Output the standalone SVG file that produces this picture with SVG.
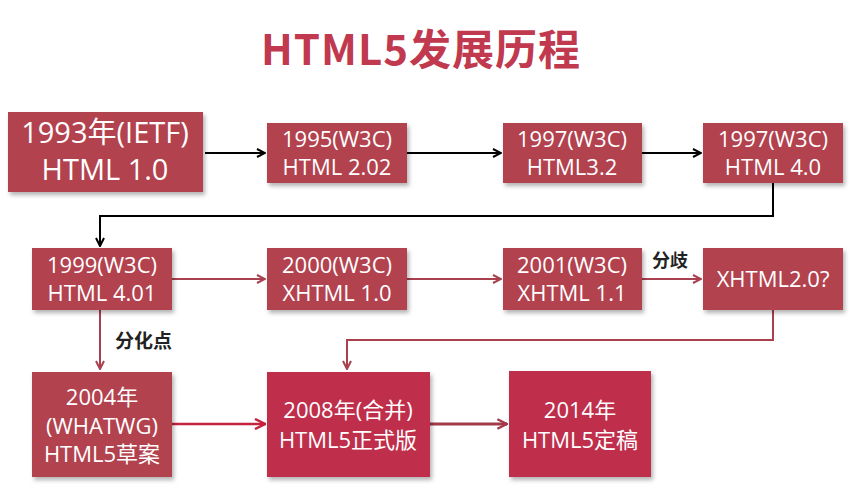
<svg xmlns="http://www.w3.org/2000/svg" width="855" height="490" viewBox="0 0 855 490">
<defs>
<filter id="sh" x="-10%" y="-10%" width="125%" height="130%">
<feDropShadow dx="2" dy="3" stdDeviation="2" flood-color="#000" flood-opacity="0.3"/>
</filter>
<marker id="ab" viewBox="0 0 10 10" refX="9" refY="5" markerWidth="5" markerHeight="5" orient="auto" markerUnits="strokeWidth">
<path d="M1,1 L9,5 L1,9" fill="none" stroke="#000" stroke-width="2"/>
</marker>
<marker id="ar" viewBox="0 0 10 10" refX="9" refY="5" markerWidth="5" markerHeight="5" orient="auto" markerUnits="strokeWidth">
<path d="M1,1 L9,5 L1,9" fill="none" stroke="#a8404f" stroke-width="2"/>
</marker>
<marker id="ar2" viewBox="0 0 10 10" refX="9" refY="5" markerWidth="5" markerHeight="5" orient="auto" markerUnits="strokeWidth">
<path d="M1,1 L9,5 L1,9" fill="none" stroke="#c4223e" stroke-width="2"/>
</marker>
<marker id="ar3" viewBox="0 0 10 10" refX="9" refY="5" markerWidth="4" markerHeight="4" orient="auto" markerUnits="strokeWidth">
<path d="M1,1 L9,5 L1,9" fill="none" stroke="#a33a48" stroke-width="2"/>
</marker>
</defs>
<style>
.box{fill:#b3434f;filter:url(#sh)}
.box2{fill:#bf2e4b;filter:url(#sh)}
text{font-family:"Open Sans","Noto Sans CJK SC",sans-serif;fill:#fff;text-anchor:middle}
.t{font-size:22px}
.big{font-size:29px}
.lbl{font-family:"Noto Sans CJK SC",sans-serif;fill:#222;font-weight:bold;font-size:18px;text-anchor:start}
.title{font-family:"Noto Sans CJK SC",sans-serif;fill:#c0394f;font-weight:bold;font-size:42px;letter-spacing:1px}
.cb{fill:none;stroke:#000;stroke-width:2}
.cr{fill:none;stroke:#a8404f;stroke-width:2}
</style>
<rect width="855" height="490" fill="#fff"/>
<text class="title" x="421" y="65">HTML5发展历程</text>
<g id="connectors">
<line class="cb" x1="205" y1="153" x2="265" y2="153" marker-end="url(#ab)"/>
<line class="cb" x1="407" y1="153" x2="501" y2="153" marker-end="url(#ab)"/>
<line class="cb" x1="642" y1="153" x2="701" y2="153" marker-end="url(#ab)"/>
<polyline class="cb" points="773,183 773,216 100,216 100,246" marker-end="url(#ab)"/>
<line class="cr" x1="172" y1="279" x2="265" y2="279" marker-end="url(#ar)"/>
<line class="cr" x1="407" y1="279" x2="501" y2="279" marker-end="url(#ar)"/>
<line class="cr" x1="642" y1="279" x2="701" y2="279" marker-end="url(#ar)"/>
<polyline class="cr" points="773,310 773,340 347,340 347,369" marker-end="url(#ar)"/>
<line class="cr" x1="100" y1="310" x2="100" y2="369" marker-end="url(#ar)"/>
<line x1="172" y1="424" x2="265" y2="424" fill="none" stroke="#c4223e" stroke-width="2.5" marker-end="url(#ar2)"/>
<line x1="430" y1="424" x2="507" y2="424" fill="none" stroke="#a33a48" stroke-width="3" marker-end="url(#ar3)"/>
</g>
<text class="lbl" x="652" y="267">分歧</text>
<text class="lbl" x="115" y="348" style="font-size:19px">分化点</text>
<g id="n1"><rect class="box" x="8" y="112" width="195" height="80"/><text class="big" x="105" y="143">1993年(IETF)</text><text class="big" x="105" y="180">HTML 1.0</text></g>
<g id="n2"><rect class="box" x="267" y="123" width="140" height="60"/><text class="t" x="337" y="147">1995(W3C)</text><text class="t" x="337" y="175">HTML 2.02</text></g>
<g id="n3"><rect class="box" x="503" y="123" width="139" height="60"/><text class="t" x="572" y="147">1997(W3C)</text><text class="t" x="572" y="175">HTML3.2</text></g>
<g id="n4"><rect class="box" x="703" y="123" width="140" height="60"/><text class="t" x="773" y="147">1997(W3C)</text><text class="t" x="773" y="175">HTML 4.0</text></g>
<g id="n5"><rect class="box" x="32" y="248" width="140" height="62"/><text class="t" x="102" y="273">1999(W3C)</text><text class="t" x="102" y="301">HTML 4.01</text></g>
<g id="n6"><rect class="box" x="267" y="248" width="140" height="62"/><text class="t" x="337" y="273">2000(W3C)</text><text class="t" x="337" y="301">XHTML 1.0</text></g>
<g id="n7"><rect class="box" x="503" y="248" width="139" height="62"/><text class="t" x="572" y="273">2001(W3C)</text><text class="t" x="572" y="301">XHTML 1.1</text></g>
<g id="n8"><rect class="box" x="703" y="248" width="140" height="62"/><text class="t" x="773" y="287">XHTML2.0?</text></g>
<g id="n9"><rect class="box" x="32" y="372" width="140" height="105"/><text class="t" x="102" y="405">2004年</text><text class="t" x="102" y="434">(WHATWG)</text><text class="t" x="102" y="462">HTML5草案</text></g>
<g id="n10"><rect class="box2" x="267" y="372" width="163" height="105"/><text class="t" x="348" y="418">2008年(合并)</text><text class="t" x="348" y="448">HTML5正式版</text></g>
<g id="n11"><rect class="box2" x="509" y="371" width="142" height="106"/><text class="t" x="580" y="418">2014年</text><text class="t" x="580" y="448">HTML5定稿</text></g>
</svg>
